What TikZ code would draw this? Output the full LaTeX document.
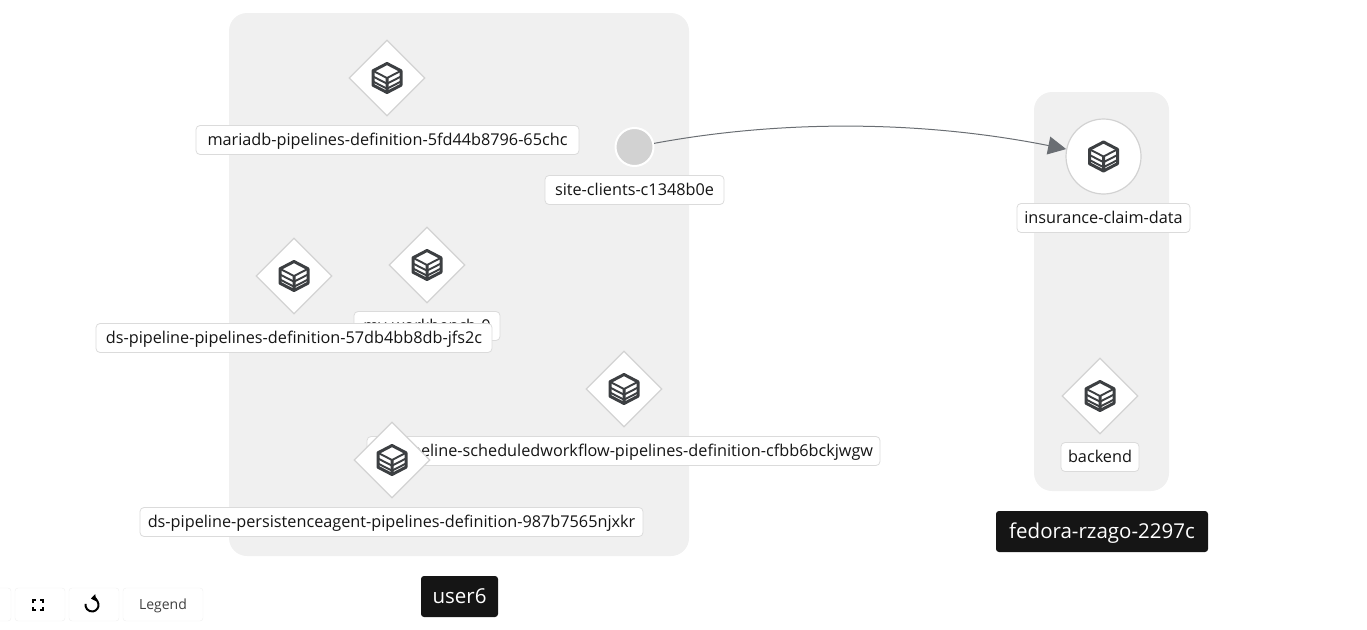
\documentclass[tikz,border=0pt]{standalone}
\usepackage{fontspec}
\setmainfont{Open Sans}
\usetikzlibrary{arrows.meta,shapes.geometric}
\definecolor{grouparea}{HTML}{F0F0F0}
\definecolor{nodeline}{HTML}{D2D2D2}
\definecolor{icondark}{HTML}{3C3F42}
\definecolor{edgegray}{HTML}{6A6E73}
\definecolor{tagblack}{HTML}{151515}
\tikzset{
	group/.style={draw=none, fill=grouparea, rounded corners=18pt},
	podshape/.style={draw=nodeline, fill=white, line width=1.2pt, diamond, inner sep=0pt, minimum width=76pt, minimum height=76pt},
	podround/.style={draw=nodeline, fill=white, line width=1.2pt, circle, inner sep=0pt, minimum size=75pt},
	podlabel/.style={draw=nodeline!80!white, fill=white, line width=.8pt, rounded corners=4pt, minimum height=29pt, inner sep=0pt, text=tagblack, text height=14pt, text depth=2.5pt, font=\fontsize{16.25}{18}\selectfont},
	grouptag/.style={fill=tagblack, text=white, rounded corners=3pt, minimum height=41pt, inner sep=0pt, text height=16pt, text depth=3pt, font=\fontsize{20.5}{24}\selectfont},
	toolbtn/.style={draw=black!6, fill=white, rounded corners=3pt, minimum height=33pt, inner sep=0pt, text height=12pt, text depth=2pt, font=\fontsize{14}{16}\selectfont, text=black!75},
	cube/.pic={
		\draw[icondark, line width=3pt, line join=round]
			(0,-14.5) -- (14,-7.2) -- (14,7.2) -- (0,14.5) -- (-14,7.2) -- (-14,-7.2) -- cycle
			(0,0) -- (0,14.5);
		\draw[icondark, line width=1.9pt]
			(-14,-7.2) -- (0,0) -- (14,-7.2)
			(-14,-1.5) -- (0,5.7) -- (14,-1.5)
			(-14,3.5) -- (0,10.7) -- (14,3.5);
	}
}
\begin{document}
\begin{tikzpicture}[x=1pt, y=-1pt]

\useasboundingbox (0,0) rectangle (1367,629);

% Groups
\node[group, minimum width=460pt, minimum height=543pt] (userarea) at (459,284.5) {};
\node[group, minimum width=135pt, minimum height=399pt] (fedoraarea) at (1101.5,291.5) {};

% Pods
\newcommand{\podbox}[2]{
	\node[podshape] (#1) at (#2) {};
	\pic at (#1) {cube};
}
\newcommand{\podtext}[4]{
	\node[podlabel, minimum width=#3pt] (#1) at (#2) {#4};
}
\podbox  {workbench}   {427,265}
\podtext {workbenchl}  {427,326}     {146} {my-workbench-0}
\podbox  {mariadb}     {387,78}
\podtext {mariadbl}    {387.5,140}   {383} {mariadb-pipelines-definition-5fd44b8796-65chc}
\podbox  {pipeline}    {294,276}
\podtext {pipelinel}   {294,338}     {396} {ds-pipeline-pipelines-definition-57db4bb8db-jfs2c}
\podbox  {scheduled}   {624,389}
\podtext {scheduledl}  {623.5,451}   {513} {ds-pipeline-scheduledworkflow-pipelines-definition-cfbb6bckjwgw}
\podbox  {persist}     {392,460}
\podtext {persistl}    {391.5,522}   {503} {ds-pipeline-persistenceagent-pipelines-definition-987b7565njxkr}
\podbox  {backend}     {1100,396}
\podtext {backendl}    {1100,457}    {78}  {backend}

% Services
\node[podround] (insurance) at (1103.5,156.5) {};
\pic at (insurance) {cube};
\podtext {insurancel}  {1103.5,218}  {173} {insurance-claim-data}
\node[circle, draw=white, fill=nodeline, line width=2pt, inner sep=0pt, minimum size=38pt] (site) at (634.5,147) {};
\podtext {sitel}       {634.5,190}   {179} {site-clients-c1348b0e}

% Connector
\draw[edgegray, line width=1pt, -{Triangle[length=18pt, width=18pt, fill=edgegray]}]
	(site) .. controls (780,120) and (920,120) .. (insurance);

% Group names
\node[grouptag, minimum width=77pt] (usertag) at (459.5,596.5) {user6};
\node[grouptag, minimum width=212pt] (fedoratag) at (1102,531.5) {fedora-rzago-2297c};

% Toolbar
\node[toolbtn, minimum width=50pt] (zoomout) at (-14,604.5) {};
\node[toolbtn, minimum width=50pt] (fit) at (40,604.5) {};
\node[toolbtn, minimum width=50pt] (reset) at (94,604.5) {};
\node[toolbtn, minimum width=80pt] (legend) at (163,604.5) {Legend};
\draw[black, line width=2pt]
	([shift={(-7,-1.5)}]fit.center) -- ++(0,-3) -- ++(3,0)
	([shift={(0,-4.5)}]fit.center) -- ++(3,0) -- ++(0,3)
	([shift={(3,2.5)}]fit.center) -- ++(0,3) -- ++(-3,0)
	([shift={(-4,5.5)}]fit.center) -- ++(-3,0) -- ++(0,-3);
\draw[black, line width=2pt, {Triangle[length=5pt, width=7pt]}-]
	([shift={(-3.1,-5.9)}]reset.center) arc[start angle=100, end angle=-190, radius=6.5pt];
\end{tikzpicture}
\end{document}
